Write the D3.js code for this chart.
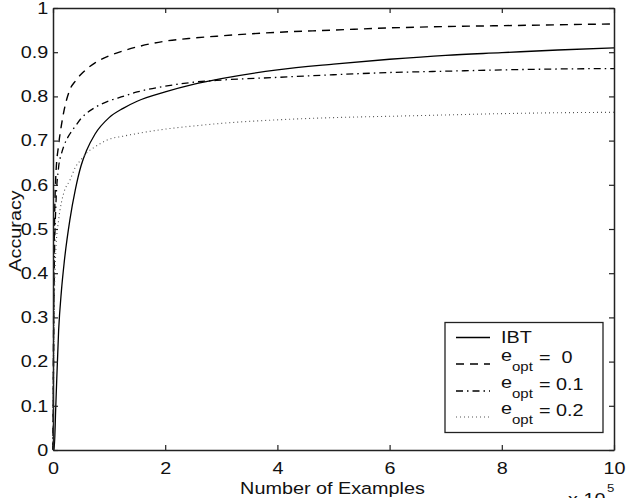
<!DOCTYPE html>
<html>
<head>
<meta charset="utf-8">
<script src="https://cdn.jsdelivr.net/npm/d3@7"></script>
<style>
body { margin: 0; background: #fff; }
text { font-family: "Liberation Sans", Arial, sans-serif; fill: #111; }
</style>
</head>
<body>
<div id="chart"></div>
<script>
// number of examples, in units of 10^5
const examples = [0, 0.02, 0.05, 0.1, 0.15, 0.2, 0.3, 0.4, 0.5, 0.6, 0.75, 1, 1.25, 1.5, 2, 2.5, 3, 4, 5, 6, 7, 8, 9, 10];
const ibt   = [0, 0,    0.10, 0.27, 0.36, 0.425, 0.52, 0.59, 0.643, 0.678, 0.715, 0.752, 0.773, 0.789, 0.81, 0.827, 0.84, 0.86, 0.873, 0.884, 0.893, 0.899, 0.905, 0.91];
const eopt0 = [0, 0.45, 0.62, 0.69, 0.735, 0.77, 0.815, 0.835, 0.85, 0.862, 0.876, 0.892, 0.903, 0.912, 0.925, 0.932, 0.937, 0.945, 0.95, 0.955, 0.958, 0.96, 0.962, 0.964];
const eopt1 = [0, 0.38, 0.55, 0.64, 0.67, 0.69, 0.715, 0.733, 0.75, 0.762, 0.775, 0.79, 0.80, 0.81, 0.823, 0.832, 0.837, 0.843, 0.849, 0.854, 0.857, 0.86, 0.862, 0.863];
const eopt2 = [0, 0.30, 0.45, 0.52, 0.56, 0.585, 0.61, 0.64, 0.657, 0.672, 0.686, 0.703, 0.71, 0.716, 0.726, 0.733, 0.739, 0.747, 0.752, 0.755, 0.758, 0.761, 0.763, 0.764];

const xTicks = [0, 2, 4, 6, 8, 10];
const yTicks = [0, 0.1, 0.2, 0.3, 0.4, 0.5, 0.6, 0.7, 0.8, 0.9, 1];
const legendNames = ["IBT", "=  0", "= 0.1", "= 0.2"];

const width = 631, height = 498;
const mLeft = 53, mRight = 614, mTop = 8, mBottom = 450;
const sx = 1.2; // text is drawn a bit wider than tall

const svg = d3.select('#chart').append('svg')
    .attr('width', width)
    .attr('height', height);

const xScale = d3.scaleLinear().domain([0, 10]).range([mLeft, mRight]);
const yScale = d3.scaleLinear().domain([0, 1]).range([mBottom, mTop]);

function label(parent, x, y, str, size, anchor) {
    return parent.append('g')
        .attr('transform', 'translate(' + x + ',' + y + ') scale(' + sx + ',1)')
        .append('text')
        .attr('font-size', size)
        .attr('text-anchor', anchor || 'start')
        .style('white-space', 'pre')
        .text(str);
}

// lines
const series = [
    { values: ibt,   dash: null,          color: '#000', w: 1.3 },
    { values: eopt0, dash: '8,6',         color: '#000', w: 1.4 },
    { values: eopt1, dash: '7,4,1.5,4',   color: '#000', w: 1.3 },
    { values: eopt2, dash: '1,3',         color: '#555', w: 1.1 }
];

const line = d3.line()
    .x((d, i) => xScale(examples[i]))
    .y(d => yScale(d))
    .curve(d3.curveMonotoneX);

series.forEach(s => {
    svg.append('path')
        .datum(s.values)
        .attr('fill', 'none')
        .attr('stroke', s.color)
        .attr('stroke-width', s.w)
        .attr('stroke-dasharray', s.dash)
        .attr('d', line);
});

// axes, ticks pointing inwards on all four sides
const xaxis = d3.axisBottom(xScale).tickValues(xTicks).tickSizeInner(-5).tickSizeOuter(0).tickPadding(12);
const yaxis = d3.axisLeft(yScale).tickValues(yTicks).tickSizeInner(-5).tickSizeOuter(0).tickPadding(4)
    .tickFormat(d => d === 0 || d === 1 ? String(d) : d.toFixed(1));
const xtop = d3.axisTop(xScale).tickValues(xTicks).tickSizeInner(-5).tickSizeOuter(0).tickFormat('');
const yright = d3.axisRight(yScale).tickValues(yTicks).tickSizeInner(-5).tickSizeOuter(0).tickFormat('');

const gx = svg.append('g').attr('transform', 'translate(0,' + mBottom + ')').call(xaxis);
const gy = svg.append('g').attr('transform', 'translate(' + mLeft + ',0)').call(yaxis);
svg.append('g').attr('transform', 'translate(0,' + mTop + ')').call(xtop);
svg.append('g').attr('transform', 'translate(' + mRight + ',0)').call(yright);

svg.selectAll('.domain').attr('stroke', '#222').attr('stroke-width', 1.5);
svg.selectAll('.tick line').attr('stroke', '#222').attr('stroke-width', 1.2);
[gx, gy].forEach(g => g.selectAll('text')
    .attr('font-size', 16.5)
    .attr('font-family', '"Liberation Sans", Arial, sans-serif')
    .attr('fill', '#111')
    .attr('transform', 'scale(' + sx + ',1)'));

// axis titles
label(svg, (mLeft + mRight) / 2 - 1, 494, 'Number of Examples', 16.5, 'middle');
svg.append('text')
    .attr('transform', 'translate(21,' + ((mTop + mBottom) / 2 + 2) + ') rotate(-90) scale(' + sx + ',1)')
    .attr('font-size', 16.5)
    .attr('text-anchor', 'middle')
    .text('Accuracy');
label(svg, 568, 505, 'x 10', 16.5);
label(svg, 607, 492, '5', 11);

// legend
const legend = svg.append('g');
legend.append('rect')
    .attr('x', 445).attr('y', 322.5)
    .attr('width', 158).attr('height', 110)
    .attr('fill', '#fff')
    .attr('stroke', '#222')
    .attr('stroke-width', 1.3);

const rowY = [337.5, 364, 391, 417];
series.forEach((s, i) => {
    legend.append('line')
        .attr('x1', 456).attr('x2', 490)
        .attr('y1', rowY[i]).attr('y2', rowY[i])
        .attr('stroke', s.color)
        .attr('stroke-width', s.w)
        .attr('stroke-dasharray', s.dash);
    if (i === 0) {
        label(legend, 501, rowY[i] + 5.5, legendNames[i], 16.5);
    } else {
        label(legend, 501, rowY[i] - 3, 'e', 16.5);
        label(legend, 512, rowY[i] + 7, 'opt', 12.5);
        label(legend, 539, rowY[i] - 1.5, legendNames[i], 16.5);
    }
});
</script>
</body>
</html>
